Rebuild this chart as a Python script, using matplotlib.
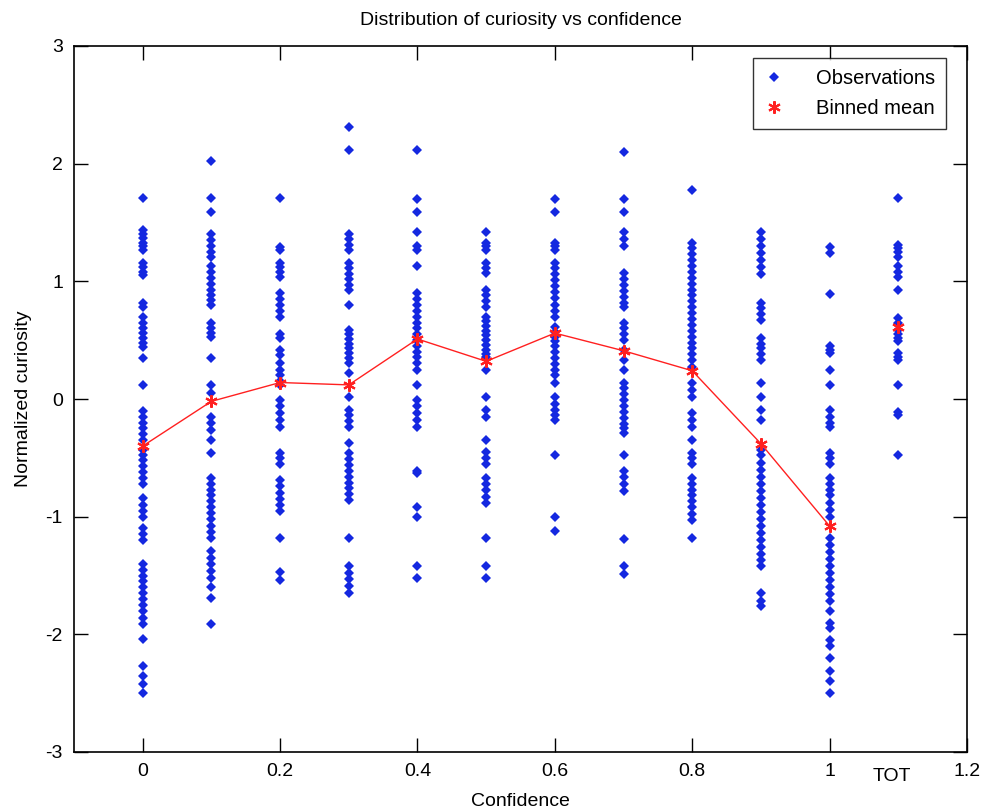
import numpy as np
import matplotlib.pyplot as plt
from matplotlib.lines import Line2D

plt.rcParams['font.family'] = ['Liberation Sans', 'DejaVu Sans']
plt.rcParams['axes.unicode_minus'] = False

# confidence bins and the values observed in each one
bins = [0, 0.1, 0.2, 0.3, 0.4, 0.5, 0.6, 0.7, 0.8, 0.9, 1.0, 1.1]

obs = [
    [1.71, 1.44, 1.40, 1.37, 1.33, 1.30, 1.27, 1.16, 1.12, 1.08, 1.05, 0.82, 0.78, 0.70, 0.65,
     0.60, 0.56, 0.52, 0.48, 0.44, 0.35, 0.12, -0.10, -0.15, -0.20, -0.25, -0.30, -0.35, -0.43,
     -0.48, -0.52, -0.57, -0.62, -0.67, -0.72, -0.84, -0.90, -0.95, -1.00, -1.10, -1.15, -1.20,
     -1.40, -1.45, -1.50, -1.55, -1.60, -1.65, -1.70, -1.75, -1.80, -1.86, -1.91, -2.04, -2.27,
     -2.35, -2.42, -2.50],
    [2.02, 1.71, 1.59, 1.40, 1.35, 1.30, 1.25, 1.21, 1.13, 1.08, 1.03, 0.98, 0.93, 0.88, 0.84,
     0.80, 0.65, 0.60, 0.56, 0.53, 0.35, 0.12, 0.05, -0.15, -0.20, -0.26, -0.35, -0.46, -0.67,
     -0.72, -0.77, -0.82, -0.87, -0.92, -0.97, -1.02, -1.08, -1.13, -1.18, -1.29, -1.35, -1.40,
     -1.46, -1.52, -1.60, -1.69, -1.91],
    [1.71, 1.29, 1.27, 1.16, 1.12, 1.08, 1.04, 0.90, 0.85, 0.80, 0.75, 0.70, 0.55, 0.52, 0.42,
     0.37, 0.31, 0.25, 0.20, 0.15, 0.12, -0.01, -0.06, -0.12, -0.18, -0.24, -0.46, -0.50, -0.55,
     -0.69, -0.74, -0.80, -0.85, -0.90, -0.95, -1.18, -1.47, -1.54],
    [2.31, 2.12, 1.40, 1.36, 1.31, 1.27, 1.16, 1.11, 1.06, 1.02, 0.97, 0.93, 0.80, 0.59, 0.55,
     0.51, 0.47, 0.43, 0.39, 0.35, 0.31, 0.22, 0.02, -0.09, -0.14, -0.19, -0.24, -0.37, -0.46,
     -0.51, -0.56, -0.61, -0.66, -0.71, -0.76, -0.81, -0.86, -1.18, -1.42, -1.48, -1.53, -1.59,
     -1.65],
    [2.12, 1.70, 1.59, 1.42, 1.30, 1.27, 1.13, 0.90, 0.85, 0.80, 0.75, 0.70, 0.65, 0.60, 0.55,
     0.50, 0.45, 0.40, 0.36, 0.31, 0.25, 0.12, -0.01, -0.06, -0.12, -0.18, -0.24, -0.61, -0.63,
     -0.92, -1.00, -1.42, -1.52],
    [1.42, 1.33, 1.30, 1.27, 1.16, 1.11, 1.07, 0.93, 0.88, 0.83, 0.78, 0.70, 0.66, 0.62, 0.58,
     0.54, 0.50, 0.46, 0.42, 0.38, 0.36, 0.25, 0.02, -0.09, -0.15, -0.35, -0.45, -0.50, -0.55,
     -0.67, -0.72, -0.77, -0.83, -0.88, -1.18, -1.42, -1.52],
    [1.70, 1.59, 1.33, 1.30, 1.27, 1.16, 1.11, 1.06, 1.01, 0.96, 0.91, 0.86, 0.80, 0.75, 0.70,
     0.61, 0.57, 0.53, 0.49, 0.45, 0.40, 0.35, 0.30, 0.25, 0.20, 0.14, 0.02, -0.04, -0.09, -0.14,
     -0.18, -0.48, -1.00, -1.12],
    [2.10, 1.70, 1.59, 1.42, 1.36, 1.30, 1.07, 1.02, 0.97, 0.92, 0.87, 0.82, 0.78, 0.65, 0.60,
     0.55, 0.50, 0.42, 0.33, 0.25, 0.14, 0.09, 0.04, -0.01, -0.06, -0.11, -0.16, -0.21, -0.25,
     -0.29, -0.48, -0.61, -0.66, -0.72, -0.78, -1.19, -1.42, -1.49],
    [1.78, 1.33, 1.28, 1.23, 1.18, 1.13, 1.08, 1.03, 0.98, 0.93, 0.88, 0.83, 0.78, 0.73, 0.68,
     0.63, 0.58, 0.53, 0.48, 0.43, 0.38, 0.33, 0.27, 0.14, 0.08, 0.02, -0.12, -0.18, -0.24,
     -0.35, -0.46, -0.50, -0.55, -0.67, -0.72, -0.77, -0.82, -0.87, -0.92, -0.98, -1.03, -1.18],
    [1.42, 1.36, 1.30, 1.24, 1.18, 1.12, 1.06, 0.82, 0.77, 0.72, 0.67, 0.52, 0.47, 0.43, 0.38,
     0.33, 0.14, 0.02, -0.09, -0.18, -0.43, -0.48, -0.54, -0.60, -0.66, -0.72, -0.78, -0.84,
     -0.90, -0.96, -1.02, -1.08, -1.14, -1.20, -1.26, -1.32, -1.37, -1.42, -1.65, -1.72, -1.76],
    [1.29, 1.24, 0.89, 0.45, 0.42, 0.39, 0.25, 0.12, -0.09, -0.15, -0.20, -0.24, -0.46, -0.50,
     -0.55, -0.67, -0.72, -0.77, -0.82, -0.88, -0.94, -1.00, -1.18, -1.24, -1.30, -1.36, -1.42,
     -1.48, -1.54, -1.60, -1.66, -1.72, -1.80, -1.90, -1.95, -2.05, -2.10, -2.20, -2.31, -2.40,
     -2.50],
    [1.71, 1.31, 1.28, 1.25, 1.21, 1.13, 1.08, 1.04, 0.93, 0.69, 0.65, 0.59, 0.55, 0.52, 0.49,
     0.39, 0.36, 0.33, 0.12, -0.11, -0.14, -0.48],
]

binned_mean = [-0.40, -0.02, 0.14, 0.12, 0.51, 0.32, 0.56, 0.41, 0.24, -0.38, -1.08, 0.61]

xs = np.concatenate([[b] * len(v) for b, v in zip(bins, obs)])
ys = np.concatenate(obs)

W, H = 983, 811
fig = plt.figure(figsize=(W / 100, H / 100), dpi=100)
ax = fig.add_axes([74 / W, 1 - 752 / H, (967 - 74) / W, (752 - 46) / H])

blue = '#1428e0'
red = '#ff2020'
star = (6, 2, 0)  # matlab-like asterisk
ax.plot(xs, ys, 'D', color=blue, markersize=4.8, markeredgewidth=0)
ax.plot(bins[:-1], binned_mean[:-1], '-', color=red, lw=1)
ax.plot(bins, binned_mean, linestyle='none', marker=star, color=red,
        markersize=9, markeredgewidth=1.5)

ax.set_xlim(-0.1, 1.2)
ax.set_ylim(-3, 3)
ax.set_xticks([0, 0.2, 0.4, 0.6, 0.8, 1, 1.2])
ax.set_xticklabels(['0', '0.2', '0.4', '0.6', '0.8', '1', '1.2'])
ax.set_yticks([-3, -2, -1, 0, 1, 2, 3])
ax.tick_params(direction='in', length=10, width=1, top=True, right=True,
               labelsize=14, pad=8)
ax.annotate('TOT', xy=(1.09, 0), xycoords=('data', 'axes fraction'),
            xytext=(0, -11.5), textcoords='offset points', ha='center', va='top',
            fontsize=14)
for s in ax.spines.values():
    s.set_linewidth(1.2)

ax.set_title('Distribution of curiosity vs confidence', fontsize=14, pad=15)
ax.set_xlabel('Confidence', fontsize=14, labelpad=9)
ax.set_ylabel('Normalized curiosity', fontsize=14, labelpad=10)

handles = [
    Line2D([], [], linestyle='none', marker='D', color=blue, markersize=4.8,
           markeredgewidth=0),
    Line2D([], [], linestyle='none', marker=star, color=red, markersize=9,
           markeredgewidth=1.5),
]
leg = ax.legend(handles, ['Observations', 'Binned mean'], loc='upper right',
                bbox_to_anchor=(946 / W, 1 - 58 / H), bbox_transform=fig.transFigure,
                borderaxespad=0, fontsize=14.5, frameon=True, fancybox=False,
                borderpad=0.55, handlelength=0.9, handletextpad=1.65,
                labelspacing=0.55)
leg.get_frame().set_edgecolor('black')
leg.get_frame().set_linewidth(1)

fig.savefig('out.png', dpi=100)
